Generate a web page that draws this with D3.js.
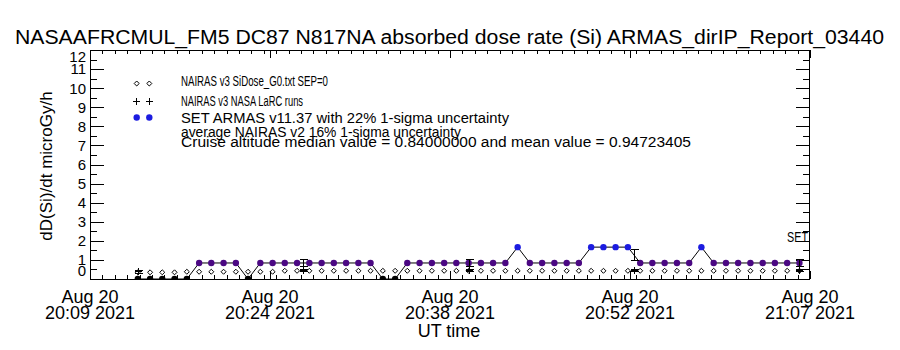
<!DOCTYPE html>
<html><head><meta charset="utf-8">
<script src="https://cdn.jsdelivr.net/npm/d3@7"></script>
<style>
html,body{margin:0;padding:0;background:#fff;}
svg text{font-family:"Liberation Sans",Arial,sans-serif;fill:#000;}
</style></head>
<body><svg id="c" width="900" height="350"></svg>
<script>
// ---- data (minutes after 20:09 UT, 20 Aug 2021) ----
const timeMin = [3.85,4.84,5.82,6.81,7.80,8.79,9.77,10.76,11.75,12.73,13.72,14.71,15.69,16.68,17.67,18.66,19.64,20.63,21.62,22.60,23.59,24.58,25.56,26.55,27.54,28.53,29.51,30.50,31.49,32.47,33.46,34.45,35.43,36.42,37.41,38.40,39.38,40.37,41.36,42.34,43.33,44.32,45.30,46.29,47.28,48.27,49.25,50.24,51.23,52.21,53.20,54.19,55.17,56.16,57.15];
const armasDose = [0,0,0,0,0,0.84,0.84,0.84,0.84,0,0.84,0.84,0.84,0.84,0.84,0.84,0.84,0.84,0.84,0.84,0,0,0.84,0.84,0.84,0.84,0.84,0.84,0.84,0.84,0.84,1.67,0.84,0.84,0.84,0.84,0.84,1.67,1.67,1.67,1.67,0.84,0.84,0.84,0.84,0.84,1.67,0.84,0.84,0.84,0.84,0.84,0.84,0.84,0.84];
const nairasDose = [0.35,0.35,0.35,0.35,0.38,0.38,0.38,0.38,0.38,0.38,0.38,0.38,0.43,0.43,0.43,0.43,0.43,0.43,0.43,0.43,0.43,0.43,0.43,0.43,0.43,0.43,0.43,0.43,0.43,0.43,0.43,0.43,0.43,0.43,0.43,0.43,0.43,0.43,0.43,0.43,0.43,0.43,0.43,0.43,0.43,0.43,0.43,0.43,0.43,0.43,0.43,0.43,0.43,0.43,0.43];
const larcTime = [3.85,17.17,30.50,43.82,57.15];
const larcDose = [0.37,0.45,0.45,0.45,0.45];
const armasAtLarc = [0,0.84,0.84,1.25,0.84];
const armasUnc = 0.22, nairasUnc = 0.16;
const xMajor = [0,14.5,29,43.5,58];
const xTickLabels = [["Aug 20","20:09 2021"],["Aug 20","20:24 2021"],["Aug 20","20:38 2021"],["Aug 20","20:52 2021"],["Aug 20","21:07 2021"]];
const yTicks = [0,1,2,3,4,5,6,7,8,9,10,11,12];
const legendRows = ["NAIRAS v3 SiDose_G0.txt SEP=0","NAIRAS v3 NASA LaRC runs","SET ARMAS v11.37 with 22% 1-sigma uncertainty","average NAIRAS v2 16% 1-sigma uncertainty","Cruise altitude median value = 0.84000000 and mean value = 0.94723405"];
const title = "NASAAFRCMUL_FM5 DC87 N817NA absorbed dose rate (Si) ARMAS_dirIP_Report_03440";

// ---- layout ----
const L=90,R=810,T=50,B=279;
const svg=d3.select("#c");
const x=d3.scaleLinear().domain([0,58]).range([L,R]);
const y=d3.scaleLinear().domain([0,12]).range([B,T]);
const col=d3.scaleThreshold().domain([0.5,1.2]).range(["#000000","#4b0883","#1c1ce0"]);

svg.append("defs").append("clipPath").attr("id","clip").append("rect")
  .attr("x",L).attr("y",T).attr("width",R-L).attr("height",B-T);

// title
svg.append("text").attr("x",15).attr("y",44).attr("font-size",20)
  .attr("textLength",869).attr("lengthAdjust","spacingAndGlyphs").text(title);

// axes
const ax=svg.append("g").attr("shape-rendering","crispEdges");
function clean(g){g.select(".domain").remove();g.selectAll("text").remove();g.selectAll("line").attr("stroke","#000");}
const minorX=d3.range(0,59,1);
ax.append("g").attr("transform",`translate(0,${B})`).call(d3.axisBottom(x).tickValues(minorX).tickSize(-4).tickSizeOuter(0)).call(clean);
ax.append("g").attr("transform",`translate(0,${B})`).call(d3.axisBottom(x).tickValues(xMajor).tickSize(-8).tickSizeOuter(0)).call(clean);
ax.append("g").attr("transform",`translate(0,${T})`).call(d3.axisTop(x).tickValues(minorX).tickSize(-4).tickSizeOuter(0)).call(clean);
ax.append("g").attr("transform",`translate(0,${T})`).call(d3.axisTop(x).tickValues(xMajor).tickSize(-8).tickSizeOuter(0)).call(clean);
const minorY=d3.range(0.5,12,1);
ax.append("g").attr("transform",`translate(${L},0)`).call(d3.axisLeft(y).tickValues(yTicks).tickSize(-14).tickSizeOuter(0)).call(clean);
ax.append("g").attr("transform",`translate(${L},0)`).call(d3.axisLeft(y).tickValues(minorY).tickSize(-7).tickSizeOuter(0)).call(clean);
ax.append("g").attr("transform",`translate(${R},0)`).call(d3.axisRight(y).tickValues(yTicks).tickSize(-14).tickSizeOuter(0)).call(clean);
ax.append("g").attr("transform",`translate(${R},0)`).call(d3.axisRight(y).tickValues(minorY).tickSize(-7).tickSizeOuter(0)).call(clean);
ax.append("rect").attr("x",L+0.5).attr("y",T+0.5).attr("width",R-L-1).attr("height",B-T).attr("fill","none").attr("stroke","#000");

// y tick labels (clamped inside like IDL)
svg.append("g").selectAll("text").data(yTicks).join("text")
  .attr("x",86).attr("text-anchor","end").attr("font-size",15)
  .attr("y",d=>Math.min(Math.max(y(d),T+7),B-8)+5.4).text(d=>d);

// x tick labels
const xl=svg.append("g").selectAll("text").data(xMajor).join("text")
  .attr("text-anchor","middle").attr("font-size",18);
xl.each(function(d,i){
  const t=d3.select(this);
  xTickLabels[i].forEach((s,k)=>t.append("tspan").attr("x",x(d)).attr("y",303+k*16).text(s));
});
svg.append("text").attr("x",449).attr("y",337).attr("text-anchor","middle").attr("font-size",18).text("UT time");
svg.append("text").attr("transform","translate(52,166) rotate(-90)").attr("text-anchor","middle")
  .attr("font-size",17).text("dD(Si)/dt microGy/h");

// data
const plot=svg.append("g").attr("clip-path","url(#clip)");
const pts=timeMin.map((t,i)=>({t,a:armasDose[i],n:nairasDose[i]}));
const diamond=d3.symbol().type(d3.symbolDiamond2).size(16);
plot.append("g").selectAll("path").data(pts).join("path")
  .attr("transform",d=>`translate(${x(d.t)},${y(d.n)})`).attr("d",diamond)
  .attr("fill","none").attr("stroke","#000").attr("stroke-width",1);
plot.append("path").datum(pts).attr("fill","none").attr("stroke","#000").attr("stroke-width",1)
  .attr("d",d3.line().x(d=>x(d.t)).y(d=>y(d.a)));
plot.append("g").selectAll("circle").data(pts).join("circle")
  .attr("cx",d=>x(d.t)).attr("cy",d=>y(d.a)).attr("r",3.2).attr("fill",d=>col(d.a));

// LaRC runs with error bars
const eb=plot.append("g").attr("stroke","#000").attr("stroke-width",1).attr("shape-rendering","crispEdges");
larcTime.forEach((t,i)=>{
  const cx=Math.round(x(t))+0.5;
  const a=armasAtLarc[i], n=larcDose[i];
  if(a>0){
    const y1=y(a*(1+armasUnc)),y2=y(a*(1-armasUnc));
    eb.append("line").attr("x1",cx).attr("x2",cx).attr("y1",y1).attr("y2",y2);
    eb.append("line").attr("x1",cx-4).attr("x2",cx+4).attr("y1",y1).attr("y2",y1);
    eb.append("line").attr("x1",cx-4).attr("x2",cx+4).attr("y1",y2).attr("y2",y2);
  }
  const n1=y(n*(1+nairasUnc)),n2=y(n*(1-nairasUnc));
  eb.append("line").attr("x1",cx).attr("x2",cx).attr("y1",n1).attr("y2",n2);
  eb.append("line").attr("x1",cx-4).attr("x2",cx+4).attr("y1",n1).attr("y2",n1);
  eb.append("line").attr("x1",cx-4).attr("x2",cx+4).attr("y1",n2).attr("y2",n2);
  const cy=y(n);
  eb.append("line").attr("x1",cx-3.5).attr("x2",cx+3.5).attr("y1",cy).attr("y2",cy);
  eb.append("line").attr("x1",cx).attr("x2",cx).attr("y1",cy-3.5).attr("y2",cy+3.5);
});

// SET label
svg.append("text").attr("x",787).attr("y",242).attr("font-size",15).attr("textLength",21)
  .attr("lengthAdjust","spacingAndGlyphs").text("SET");

// legend
const lg=svg.append("g");
const lx=[136.7,149.3];
lx.forEach(px=>{
  lg.append("path").attr("transform",`translate(${px},83.5)`).attr("d",diamond).attr("fill","none").attr("stroke","#000");
  lg.append("path").attr("transform",`translate(${px},101.5)`).attr("d","M-3.5,0H3.5M0,-3.5V3.5").attr("stroke","#000").attr("shape-rendering","crispEdges");
  lg.append("circle").attr("cx",px).attr("cy",117.5).attr("r",3.2).attr("fill","#1c1ce0");
});
const rowY=[86,105.5,123,136.5,147];
const rowW=[147,122,328,280,510];
const rowF=[15.5,15.5,14,14,14];
lg.selectAll("text").data(legendRows).join("text")
  .attr("x",181).attr("y",(d,i)=>rowY[i]).attr("font-size",(d,i)=>rowF[i])
  .attr("textLength",(d,i)=>rowW[i]).attr("lengthAdjust","spacingAndGlyphs").text(d=>d);
</script></body></html>
